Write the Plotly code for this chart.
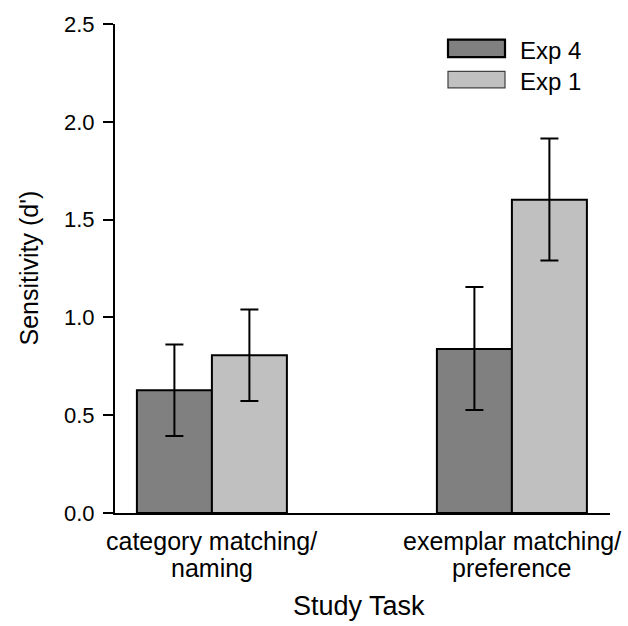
import plotly.graph_objects as go

# Study tasks (x categories) and their two-line labels
categories = ["category matching/ naming", "exemplar matching/ preference"]
label_line1 = ["category matching/", "exemplar matching/"]
label_line2 = ["naming", "preference"]

# Sensitivity (d') per experiment, with error-bar bounds
exp4_mean = [0.627, 0.838]
exp4_upper = [0.862, 1.156]
exp4_lower = [0.394, 0.527]

exp1_mean = [0.806, 1.602]
exp1_upper = [1.040, 1.915]
exp1_lower = [0.573, 1.291]

series_names = ["Exp 4", "Exp 1"]
series_colors = ["#808080", "#c0c0c0"]

FONT = "Arial, Liberation Sans, sans-serif"


def err_arrays(mean, upper, lower):
    plus = [u - m for u, m in zip(upper, mean)]
    minus = [m - l for m, l in zip(mean, lower)]
    return plus, minus


fig = go.Figure()
for name, color, mean, up, lo in [
    (series_names[0], series_colors[0], exp4_mean, exp4_upper, exp4_lower),
    (series_names[1], series_colors[1], exp1_mean, exp1_upper, exp1_lower),
]:
    plus, minus = err_arrays(mean, up, lo)
    fig.add_trace(go.Bar(
        x=categories, y=mean, name=name,
        marker=dict(color=color, line=dict(color="black", width=2)),
        error_y=dict(type="data", symmetric=False, array=plus, arrayminus=minus,
                     color="black", thickness=2, width=9),
        showlegend=False,
    ))

L, R, T, B = 115, 18, 20, 113
W, H = 628, 626
pw, ph = W - L - R, H - T - B


def px_x(p):
    return (p - L) / pw


def px_y(p):
    return (H - B - p) / ph


annotations = []
# category labels, two lines each
for cat, l1, l2 in zip(categories, label_line1, label_line2):
    annotations.append(dict(x=cat, y=px_y(541), xref="x", yref="paper", text=l1,
                            showarrow=False, xanchor="center", yanchor="middle",
                            font=dict(family=FONT, size=25, color="black")))
    annotations.append(dict(x=cat, y=px_y(568), xref="x", yref="paper", text=l2,
                            showarrow=False, xanchor="center", yanchor="middle",
                            font=dict(family=FONT, size=25, color="black")))

# axis titles
annotations.append(dict(x=px_x(359), y=px_y(607), xref="paper", yref="paper",
                        text="Study Task", showarrow=False, xanchor="center",
                        yanchor="middle", font=dict(family=FONT, size=27, color="black")))
annotations.append(dict(x=px_x(28), y=0.5, xref="paper", yref="paper",
                        text="Sensitivity (d')", showarrow=False, textangle=-90,
                        xanchor="center", yanchor="middle",
                        font=dict(family=FONT, size=25, color="black")))

# legend: swatches plus labels
shapes = []
legend_rows = [(35.7, 53.3, 2.2, "black"), (67.7, 84.3, 1.2, "#404040")]
for (y0, y1, lw, lc), name, color in zip(legend_rows, series_names, series_colors):
    shapes.append(dict(type="rect", xref="paper", yref="paper",
                       x0=px_x(448), x1=px_x(505), y0=px_y(y1), y1=px_y(y0),
                       fillcolor=color, line=dict(color=lc, width=lw)))
    annotations.append(dict(x=px_x(518), y=px_y((y0 + y1) / 2 + 2), xref="paper",
                            yref="paper", text=name, showarrow=False,
                            xanchor="left", yanchor="middle",
                            font=dict(family=FONT, size=24, color="black")))

fig.update_layout(
    width=W, height=H,
    margin=dict(l=L, r=R, t=T, b=B),
    paper_bgcolor="white", plot_bgcolor="white",
    barmode="group", bargap=0.5, bargroupgap=0,
    font=dict(family=FONT, color="black"),
    annotations=annotations, shapes=shapes,
    xaxis=dict(type="category", range=[-0.323, 1.327], showline=True,
               linecolor="black", linewidth=2, ticks="", showticklabels=False,
               showgrid=False, zeroline=False, fixedrange=True),
    yaxis=dict(range=[0, 2.5], tickvals=[0, 0.5, 1.0, 1.5, 2.0, 2.5],
               ticktext=["0.0", "0.5", "1.0", "1.5", "2.0", "2.5"],
               showline=True, linecolor="black", linewidth=2,
               ticks="outside", ticklen=10, tickwidth=2, tickcolor="black",
               ticklabelstandoff=4,
               tickfont=dict(family=FONT, size=22, color="black"),
               showgrid=False, zeroline=False),
)

fig.write_html("out.html")
